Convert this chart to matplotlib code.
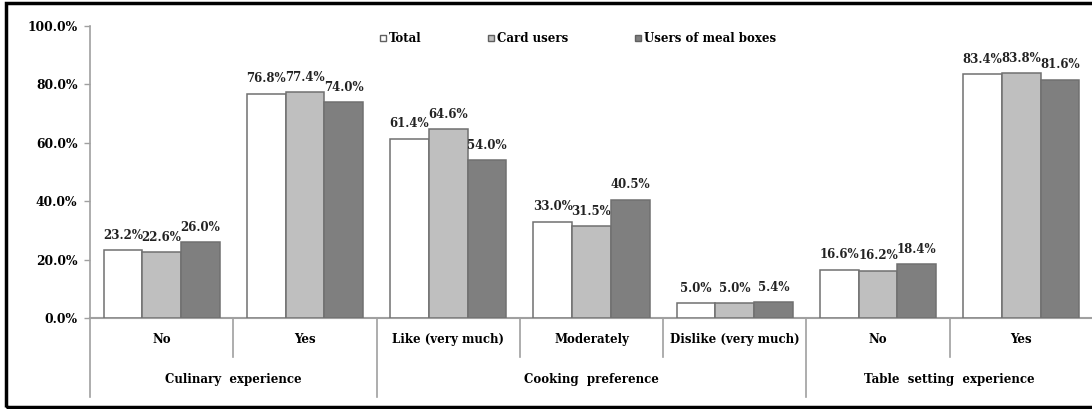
import matplotlib.pyplot as plt
from matplotlib.lines import Line2D
from matplotlib.patches import Rectangle
import numpy as np

plt.rcParams['font.family'] = ['DejaVu Serif']

sub_labels = ["No", "Yes", "Like (very much)", "Moderately", "Dislike (very much)", "No", "Yes"]
group_labels = ["Culinary  experience", "Cooking  preference", "Table  setting  experience"]
group_spans = [(0, 2), (2, 5), (5, 7)]
series_names = ["Total", "Card users", "Users of meal boxes"]
total = [23.2, 76.8, 61.4, 33.0, 5.0, 16.6, 83.4]
card = [22.6, 77.4, 64.6, 31.5, 5.0, 16.2, 83.8]
meal = [26.0, 74.0, 54.0, 40.5, 5.4, 18.4, 81.6]
colors = ["#ffffff", "#bfbfbf", "#7f7f7f"]

fig = plt.figure(figsize=(10.92, 4.09), dpi=100)
ax = fig.add_axes([90 / 1092, 91 / 409, 1003 / 1092, 292 / 409])

x = np.arange(len(sub_labels))
w = 0.27
for k, vals in enumerate([total, card, meal]):
    pos = x + (k - 1) * w
    ax.bar(pos, vals, w, color=colors[k], edgecolor="#707070", linewidth=1.1, zorder=3)
    for p, v in zip(pos, vals):
        ax.annotate(f"{v:.1f}%", (p, v), xytext=(0, 6), textcoords="offset points",
                    ha="center", va="bottom", fontsize=8.5, fontweight="bold", color="#222222")

ax.set_xlim(-0.5, len(sub_labels) - 0.5)
ax.set_ylim(0, 100)
ax.set_yticks(np.arange(0, 101, 20))
ax.set_yticklabels([f"{t:.1f}%" for t in np.arange(0, 101, 20)], fontsize=8.8, fontweight="bold")
ax.set_xticks([])
ax.tick_params(axis="y", length=4, width=1, color="#a0a0a0", pad=5)
for s in ["top", "right"]:
    ax.spines[s].set_visible(False)
ax.spines["left"].set_color("#a0a0a0")
ax.spines["bottom"].set_color("#a0a0a0")
ax.spines["left"].set_linewidth(1.2)
ax.spines["bottom"].set_linewidth(1.5)

# two-level category axis
tr = ax.get_xaxis_transform()
for i, lab in enumerate(sub_labels):
    ax.text(i, -0.075, lab, transform=tr, ha="center", va="center", fontsize=8.5, fontweight="bold")
group_edges = [s[0] for s in group_spans]
for e in range(len(sub_labels)):
    y_end = -0.271 if e in group_edges else -0.134
    ax.add_line(Line2D([e - 0.5, e - 0.5], [0, y_end], transform=tr, color="#a0a0a0",
                       linewidth=1.2, clip_on=False))
for (a, b), lab in zip(group_spans, group_labels):
    ax.text((a + b - 1) / 2, -0.209, lab, transform=tr, ha="center", va="center",
            fontsize=8.5, fontweight="bold")

handles = [Line2D([], [], marker="s", linestyle="none", markersize=5, markerfacecolor=c,
                  markeredgecolor="#606060", markeredgewidth=1) for c in colors]
leg = ax.legend(handles, series_names, ncol=3, loc="upper left", bbox_to_anchor=(0.278, 1.017),
                frameon=False, handlelength=0.6, handletextpad=0.2, columnspacing=5.6,
                prop={"size": 8.5, "weight": "bold"})

# outer frame
fig.add_artist(Rectangle((6 / 1092, 2 / 409), 1.1, 404 / 409, transform=fig.transFigure,
                         fill=False, edgecolor="black", linewidth=2.5, clip_on=False))

fig.savefig("out.png", dpi=100)
